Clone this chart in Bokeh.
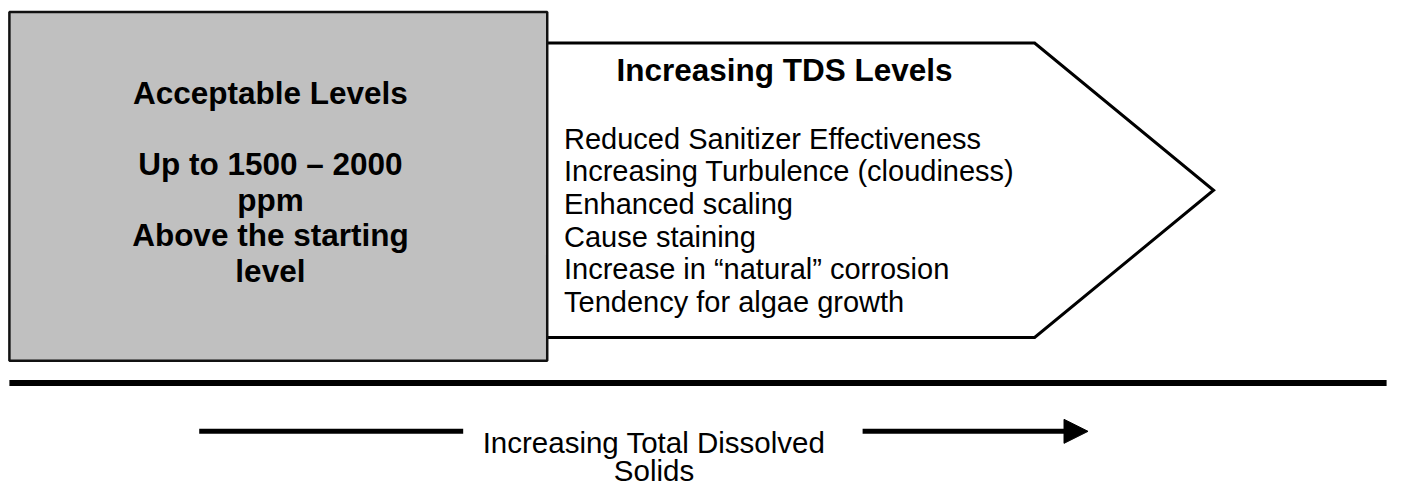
from bokeh.plotting import figure
from bokeh.models import Range1d, Arrow, NormalHead
from bokeh.core.properties import value
from bokeh.embed import file_html
from bokeh.resources import INLINE

# ---- content ----
left_lines = ["Acceptable Levels", "", "Up to 1500 \u2013 2000", "ppm", "Above the starting", "level"]
right_title = "Increasing TDS Levels"
effects = [
    "Reduced Sanitizer Effectiveness",
    "Increasing Turbulence (cloudiness)",
    "Enhanced scaling",
    "Cause staining",
    "Increase in \u201cnatural\u201d corrosion",
    "Tendency for algae growth",
]
bottom_label = ["Increasing Total Dissolved", "Solids"]

FONT = value("Liberation Sans")
DY = -11  # baseline correction for svg text placement

p = figure(width=1394, height=487, x_range=Range1d(0, 1410), y_range=Range1d(503, 0),
           output_backend="svg", toolbar_location=None, min_border=0,
           x_axis_type=None, y_axis_type=None, outline_line_color=None,
           background_fill_color="white", border_fill_color="white")
p.grid.visible = False

# pentagon arrow (white body, open outline)
ax = [553, 1046, 1227, 1046, 553]
ay = [44, 44, 196, 348, 348]
p.patch(ax, ay, fill_color="white", line_color=None)
p.line(ax, ay, line_color="black", line_width=3, line_join="miter")

# gray box
p.quad(left=9, right=553, top=12, bottom=372, fill_color="#c0c0c0",
       line_color="#111111", line_width=2.5)

# left box text
lx = [273] * len(left_lines)
ly = [107 + DY + i * 36.6 for i in range(len(left_lines))]
p.text(x=lx, y=ly, text=left_lines, text_font=FONT, text_font_size="31.5px",
       text_font_style="bold", text_align="center", text_baseline="alphabetic",
       text_color="black")

# arrow title and items
p.text(x=[793], y=[83 + DY], text=[right_title], text_font=FONT, text_font_size="31.5px",
       text_font_style="bold", text_align="center", text_baseline="alphabetic",
       text_color="black")
ex = [570] * len(effects)
ey = [154 + DY + i * 33.6 for i in range(len(effects))]
p.text(x=ex, y=ey, text=effects, text_font=FONT, text_font_size="29px",
       text_align="left", text_baseline="alphabetic", text_color="black")

# thick divider
p.segment(x0=[9], y0=[395], x1=[1402], y1=[395], line_color="black", line_width=6)

# bottom arrow
p.segment(x0=[201], y0=[445], x1=[468], y1=[445], line_color="black", line_width=5)
p.add_layout(Arrow(end=NormalHead(size=24, fill_color="black", line_color="black"),
                   x_start=872, y_start=445, x_end=1100, y_end=445,
                   line_color="black", line_width=5))
bx = [661] * len(bottom_label)
by = [468 + DY + i * 28 for i in range(len(bottom_label))]
p.text(x=bx, y=by, text=bottom_label, text_font=FONT, text_font_size="29.5px",
       text_align="center", text_baseline="alphabetic", text_color="black")

open("out.html", "w").write(file_html(p, INLINE))
